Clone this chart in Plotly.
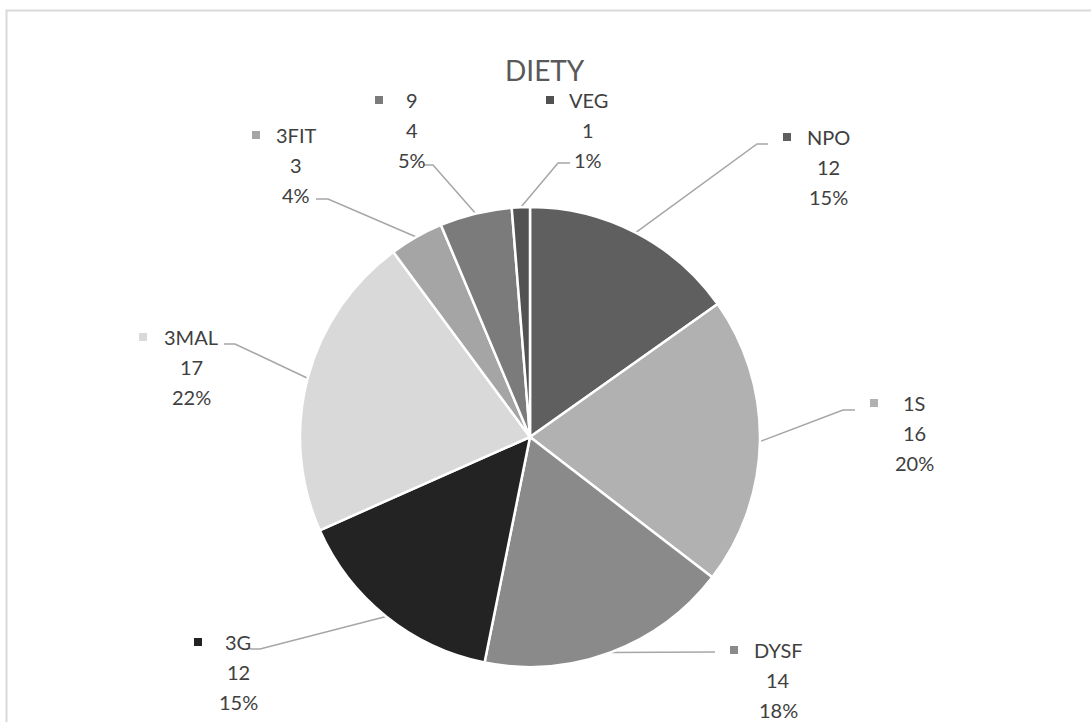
import plotly.graph_objects as go
import math

# ---- data ----
categories = ["NPO", "1S", "DYSF", "3G", "3MAL", "3FIT", "9", "VEG"]
values = [12, 16, 14, 12, 17, 3, 4, 1]
title_text = "DIETY"

# ---- styles ----
colors = ["#5f5f5f", "#b1b1b1", "#8a8a8a", "#232323", "#d9d9d9", "#a5a5a5", "#7b7b7b", "#525252"]
W, H = 1091, 722
CX, CY, R = 530, 437, 230          # pie centre / radius in px
FONT = "Lato"
TEXT_COLOR = "#404040"
LINE_COLOR = "#a6a6a6"
LINE_GAP = 30                       # px between label lines

# label layout: (text centre x, first line y, key x, bend point, line end)
label_layout = {
    "NPO":  dict(tx=828, ty=137, kx=787, bend=(757, 144), end=(768, 144)),
    "1S":   dict(tx=914, ty=403, kx=874, bend=(843, 410), end=(855, 410)),
    "DYSF": dict(tx=778, ty=650, kx=734, bend=None,       end=(715, 652)),
    "3G":   dict(tx=238, ty=642, kx=198, bend=(260, 649), end=(250, 649)),
    "3MAL": dict(tx=191, ty=337, kx=143, bend=(235, 344), end=(224, 344)),
    "3FIT": dict(tx=296, ty=135, kx=256, bend=(328, 199), end=(316, 199)),
    "9":    dict(tx=412, ty=100, kx=379, bend=(433, 165), end=(423, 165)),
    "VEG":  dict(tx=588, ty=100, kx=550, bend=(558, 163), end=(570, 163)),
}

total = sum(values)
fig = go.Figure()

fig.add_trace(go.Pie(
    labels=categories, values=values, sort=False, direction="clockwise", rotation=0,
    marker=dict(colors=colors, line=dict(color="white", width=2.5)),
    textinfo="none", hoverinfo="label+value+percent", showlegend=False,
    domain=dict(x=[(CX - R) / W, (CX + R) / W], y=[(H - CY - R) / H, (H - CY + R) / H]),
))

annotations = []
cum = 0
for name, v, c in zip(categories, values, colors):
    mid = (cum + v / 2) / total * 2 * math.pi
    cum += v
    sx = CX + R * math.sin(mid)
    sy = CY - R * math.cos(mid)
    L = label_layout[name]
    pts = [(sx, sy)]
    if L["bend"] is not None:
        pts.append(L["bend"])
    pts.append(L["end"])
    fig.add_trace(go.Scatter(
        x=[p[0] for p in pts], y=[p[1] for p in pts], mode="lines",
        line=dict(color=LINE_COLOR, width=1.5), hoverinfo="skip", showlegend=False))
    fig.add_trace(go.Scatter(
        x=[L["kx"]], y=[L["ty"]], mode="markers",
        marker=dict(symbol="square", size=8, color=c, line=dict(width=0)),
        hoverinfo="skip", showlegend=False))
    pct = f"{round(v / total * 100)}%"
    for i, t in enumerate([name, str(v), pct]):
        annotations.append(dict(
            x=L["tx"], y=L["ty"] + i * LINE_GAP, xref="x", yref="y", text=t,
            showarrow=False, xanchor="center", yanchor="middle",
            font=dict(family=FONT, size=20, color=TEXT_COLOR)))

annotations.append(dict(
    x=545, y=70, xref="x", yref="y", text=title_text, showarrow=False,
    xanchor="center", yanchor="middle",
    font=dict(family=FONT, size=28, color="#595959")))

fig.update_layout(
    width=W, height=H, margin=dict(l=0, r=0, t=0, b=0),
    paper_bgcolor="white", plot_bgcolor="rgba(0,0,0,0)",
    xaxis=dict(range=[0, W], visible=False, fixedrange=True),
    yaxis=dict(range=[H, 0], visible=False, fixedrange=True),
    annotations=annotations,
    shapes=[dict(type="rect", xref="x", yref="y", x0=6.5, y0=10.5, x1=W + 20, y1=H + 20,
                 line=dict(color="#d9d9d9", width=2), layer="below")],
)

fig.write_html("out.html")
